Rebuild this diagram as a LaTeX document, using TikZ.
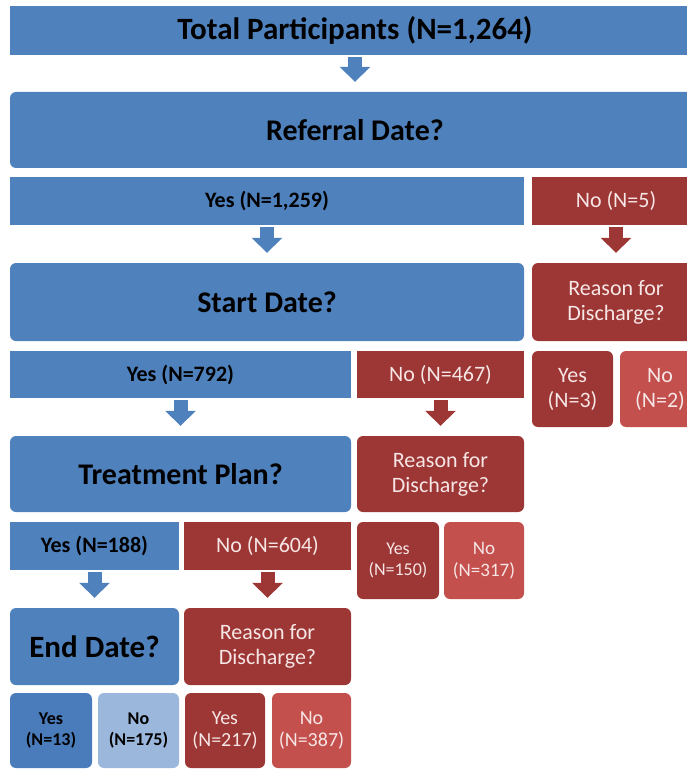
\documentclass[tikz,border=0pt]{standalone}
\usepackage{fontspec}
\setmainfont{Carlito}
\usetikzlibrary{arrows.meta}
\definecolor{qblue}{HTML}{4F81BD}
\definecolor{dblue}{HTML}{4A7BBA}
\definecolor{lblue}{HTML}{9BB8DC}
\definecolor{qred}{HTML}{9D3735}
\definecolor{lred}{HTML}{C4504D}
\definecolor{ptext}{HTML}{F6E6E6}
\newcommand{\fs}[2]{\fontsize{#1}{#2}\selectfont}

\begin{document}
\begin{tikzpicture}[x=1pt, y=-1pt,
  box/.style={inner sep=0pt, align=center},
  yesbox/.style={box, fill=qblue, font=\bfseries\fs{22}{26}},
  nobox/.style={box, fill=qred, text=ptext, font=\fs{22}{25}},
  qbox/.style={box, fill=qblue, rounded corners=6pt},
  rbox/.style={nobox, rounded corners=6pt},
  barrow/.style={line width=14pt, -{Triangle[width=30pt,length=15pt]}, shorten <=2pt, shorten >=10pt}]
\useasboundingbox (0,0) rectangle (687,770);

% top and first question
\node[box, fill=qblue, minimum width=690pt, minimum height=49pt, font=\bfseries\fs{31}{37}] (total) at (355,30.5) {Total Participants (N=1,264)};
\node[qbox, minimum width=690pt, minimum height=76pt, font=\bfseries\fs{30}{36}] (referral) at (355,130) {Referral Date?};

\node[yesbox, minimum width=514pt, minimum height=48pt] (yesA) at (267,201) {Yes (N=1,259)};
\node[nobox, minimum width=168pt, minimum height=48pt] (noA) at (616,201) {No (N=5)};

% second question
\node[qbox, minimum width=514pt, minimum height=78pt, font=\bfseries\fs{30}{36}] (start) at (267,302) {Start Date?};
\node[rbox, minimum width=168pt, minimum height=78pt] (reasonA) at (616,302) {Reason for\\Discharge?};

\node[yesbox, minimum width=341pt, minimum height=47pt] (yesB) at (180.5,374.5) {Yes (N=792)};
\node[nobox, minimum width=167pt, minimum height=47pt] (noB) at (440.5,374.5) {No (N=467)};
\node[rbox, minimum width=81pt, minimum height=76pt] (reasonAyes) at (572.5,389) {Yes\\(N=3)};
\node[rbox, fill=lred, minimum width=80pt, minimum height=76pt] (reasonAno) at (660,389) {No\\(N=2)};

% third question
\node[qbox, minimum width=341pt, minimum height=76pt, font=\bfseries\fs{30}{36}] (plan) at (180.5,474) {Treatment Plan?};
\node[rbox, minimum width=167pt, minimum height=76pt] (reasonB) at (440.5,474) {Reason for\\Discharge?};

\node[yesbox, minimum width=169pt, minimum height=48pt] (yesC) at (94.5,546) {Yes (N=188)};
\node[nobox, minimum width=167pt, minimum height=48pt] (noC) at (267.5,546) {No (N=604)};
\node[rbox, minimum width=82pt, minimum height=77pt, font=\fs{18}{21}] (reasonByes) at (398,560.5) {Yes\\(N=150)};
\node[rbox, fill=lred, minimum width=80pt, minimum height=77pt, font=\fs{19}{22}] (reasonBno) at (484,560.5) {No\\(N=317)};

% last question
\node[qbox, minimum width=169pt, minimum height=77pt, font=\bfseries\fs{31}{37}] (end) at (94.5,646.5) {End Date?};
\node[rbox, minimum width=167pt, minimum height=77pt] (reasonC) at (267.5,646.5) {Reason for\\Discharge?};

\node[qbox, fill=dblue, minimum width=82pt, minimum height=75pt, font=\bfseries\fs{18}{21}] (endyes) at (51,730.5) {Yes\\(N=13)};
\node[qbox, fill=lblue, minimum width=81pt, minimum height=75pt, font=\bfseries\fs{18}{21}] (endno) at (138.5,730.5) {No\\(N=175)};
\node[rbox, minimum width=80pt, minimum height=75pt, font=\fs{20}{22}] (reasonCyes) at (225,730.5) {Yes\\(N=217)};
\node[rbox, fill=lred, minimum width=79pt, minimum height=75pt, font=\fs{20}{22}] (reasonCno) at (311.5,730.5) {No\\(N=387)};

\path[barrow, qblue]
(total) edge (referral)
(yesA) edge (start)
(yesB) edge (plan)
(yesC) edge (end);
\path[barrow, qred]
(noA) edge (reasonA)
(noB) edge (reasonB)
(noC) edge (reasonC);
\end{tikzpicture}
\end{document}
